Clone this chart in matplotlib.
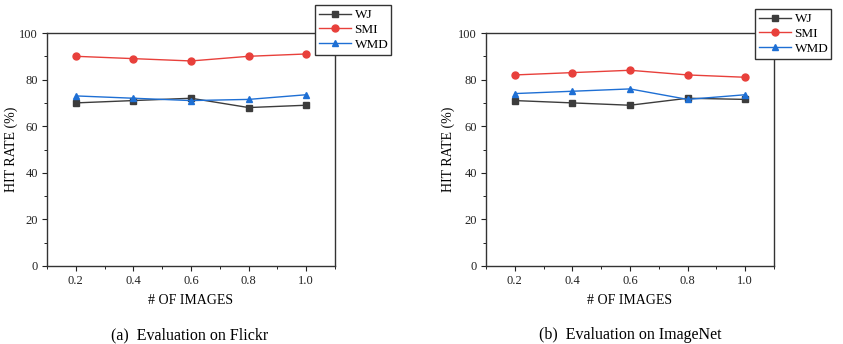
import matplotlib
matplotlib.use("Agg")
import matplotlib.pyplot as plt
from matplotlib.ticker import MultipleLocator

plt.rcParams['font.family'] = ['Liberation Serif', 'DejaVu Serif']

x = [0.2, 0.4, 0.6, 0.8, 1.0]
series_names = ["WJ", "SMI", "WMD"]
flickr_wj = [70, 71, 72, 68, 69]
flickr_smi = [90, 89, 88, 90, 91]
flickr_wmd = [73, 72, 71, 71.5, 73.5]
imagenet_wj = [71, 70, 69, 72, 71.5]
imagenet_smi = [82, 83, 84, 82, 81]
imagenet_wmd = [74, 75, 76, 71.5, 73.5]
captions = ["(a)  Evaluation on Flickr", "(b)  Evaluation on ImageNet"]

colors = {"WJ": "#3c3c3c", "SMI": "#e8403b", "WMD": "#1e6fd4"}
markers = {"WJ": "s", "SMI": "o", "WMD": "^"}

W, H = 843, 344
fig = plt.figure(figsize=(W / 100, H / 100), dpi=100)

def ax_rect(l, r, t, b):
    return [l / W, 1 - b / H, (r - l) / W, (b - t) / H]

panels = [
    (ax_rect(47, 335, 33, 266), [flickr_wj, flickr_smi, flickr_wmd], (315, 391, 5, 61), 190, -0.10),
    (ax_rect(486, 774, 33, 266), [imagenet_wj, imagenet_smi, imagenet_wmd], (755, 831, 9, 65), 630, -0.108),
]

for i, (rect, data, leg, capx, ylx) in enumerate(panels):
    ax = fig.add_axes(rect)
    for name, vals in zip(series_names, data):
        ax.plot(x, vals, color=colors[name], marker=markers[name], markersize=5,
                linewidth=1.0, label=name)
    ax.set_xlim(0.1, 1.1)
    ax.set_ylim(0, 100)
    ax.set_xticks(x)
    ax.set_xticklabels([f"{v:.1f}" for v in x])
    ax.xaxis.set_minor_locator(MultipleLocator(0.1))
    ax.yaxis.set_major_locator(MultipleLocator(20))
    ax.yaxis.set_minor_locator(MultipleLocator(10))
    ax.tick_params(axis='both', which='major', direction='out', length=3.5, width=0.8,
                   labelsize=9, colors='#222222', pad=3)
    ax.tick_params(axis='both', which='minor', direction='out', length=2, width=0.6)
    for s in ax.spines.values():
        s.set_linewidth(1.0)
        s.set_color('#333333')
    ax.set_xlabel("# OF IMAGES", fontsize=10, labelpad=5)
    ax.set_ylabel("HIT RATE (%)", fontsize=10)
    ax.yaxis.set_label_coords(ylx, 0.5)
    l, r, t, b = leg
    lg = ax.legend(loc='upper left', bbox_to_anchor=(l / W, 1 - b / H, (r - l) / W, (b - t) / H),
                   bbox_transform=fig.transFigure, mode='expand', fontsize=9.5,
                   frameon=True, fancybox=False, edgecolor='#333333', framealpha=1,
                   borderpad=0.3, labelspacing=0.2, handlelength=2.4, handletextpad=0.3,
                   borderaxespad=0)
    lg.get_frame().set_linewidth(1.0)
    fig.text(capx / W, 1 - 335 / H, captions[i], ha='center', va='center', fontsize=11.5)

fig.savefig("out.png", dpi=100)
